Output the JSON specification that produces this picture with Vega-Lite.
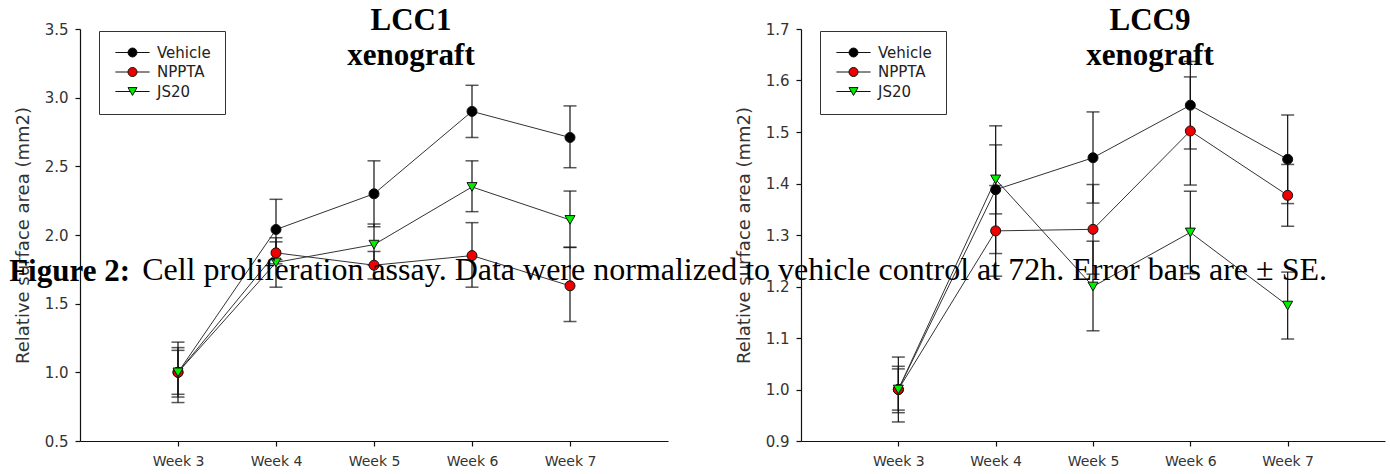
{
  "$schema": "https://vega.github.io/schema/vega-lite/v6.json",
  "padding": {"left": 9, "top": 5, "right": 2, "bottom": 5},
  "background": "white",
  "title": {"text": "Figure 2:", "font": "Liberation Serif", "fontSize": 31, "fontWeight": "bold", "color": "black", "anchor": "start", "frame": "bounds", "baseline": "alphabetic", "offset": -307, "dx": -5},
  "datasets": {
    "left": [
      {"week": "Week 3", "series": "Vehicle", "mean": 1.00, "lo": 0.78, "hi": 1.22},
      {"week": "Week 3", "series": "NPPTA", "mean": 1.00, "lo": 0.82, "hi": 1.18},
      {"week": "Week 3", "series": "JS20", "mean": 1.00, "lo": 0.84, "hi": 1.16},
      {"week": "Week 4", "series": "Vehicle", "mean": 2.04, "lo": 1.82, "hi": 2.26},
      {"week": "Week 4", "series": "NPPTA", "mean": 1.87, "lo": 1.79, "hi": 1.95},
      {"week": "Week 4", "series": "JS20", "mean": 1.80, "lo": 1.62, "hi": 1.98},
      {"week": "Week 5", "series": "Vehicle", "mean": 2.30, "lo": 2.06, "hi": 2.54},
      {"week": "Week 5", "series": "NPPTA", "mean": 1.78, "lo": 1.68, "hi": 1.88},
      {"week": "Week 5", "series": "JS20", "mean": 1.93, "lo": 1.78, "hi": 2.08},
      {"week": "Week 6", "series": "Vehicle", "mean": 2.90, "lo": 2.71, "hi": 3.09},
      {"week": "Week 6", "series": "NPPTA", "mean": 1.85, "lo": 1.62, "hi": 2.09},
      {"week": "Week 6", "series": "JS20", "mean": 2.35, "lo": 2.17, "hi": 2.54},
      {"week": "Week 7", "series": "Vehicle", "mean": 2.71, "lo": 2.49, "hi": 2.94},
      {"week": "Week 7", "series": "NPPTA", "mean": 1.63, "lo": 1.37, "hi": 1.91},
      {"week": "Week 7", "series": "JS20", "mean": 2.11, "lo": 1.91, "hi": 2.32}
    ],
    "right": [
      {"week": "Week 3", "series": "Vehicle", "mean": 1.000, "lo": 0.937, "hi": 1.063},
      {"week": "Week 3", "series": "NPPTA", "mean": 1.000, "lo": 0.955, "hi": 1.045},
      {"week": "Week 3", "series": "JS20", "mean": 1.000, "lo": 0.960, "hi": 1.040},
      {"week": "Week 4", "series": "Vehicle", "mean": 1.388, "lo": 1.264, "hi": 1.512},
      {"week": "Week 4", "series": "NPPTA", "mean": 1.308, "lo": 1.220, "hi": 1.396},
      {"week": "Week 4", "series": "JS20", "mean": 1.408, "lo": 1.341, "hi": 1.475},
      {"week": "Week 5", "series": "Vehicle", "mean": 1.450, "lo": 1.362, "hi": 1.539},
      {"week": "Week 5", "series": "NPPTA", "mean": 1.311, "lo": 1.224, "hi": 1.398},
      {"week": "Week 5", "series": "JS20", "mean": 1.200, "lo": 1.114, "hi": 1.288},
      {"week": "Week 6", "series": "Vehicle", "mean": 1.552, "lo": 1.467, "hi": 1.637},
      {"week": "Week 6", "series": "NPPTA", "mean": 1.502, "lo": 1.397, "hi": 1.607},
      {"week": "Week 6", "series": "JS20", "mean": 1.305, "lo": 1.225, "hi": 1.385},
      {"week": "Week 7", "series": "Vehicle", "mean": 1.447, "lo": 1.361, "hi": 1.533},
      {"week": "Week 7", "series": "NPPTA", "mean": 1.377, "lo": 1.317, "hi": 1.437},
      {"week": "Week 7", "series": "JS20", "mean": 1.163, "lo": 1.098, "hi": 1.228}
    ]
  },
  "vconcat": [
    {
      "title": {"text": "Cell proliferation assay. Data were normalized to vehicle control at 72h. Error bars are ± SE.", "font": "Liberation Serif", "fontSize": 32, "fontWeight": "normal", "color": "black", "anchor": "start", "frame": "bounds", "baseline": "alphabetic", "offset": -307, "dx": 128},
      "spacing": 67,
      "hconcat": [
        {
          "width": 588,
          "height": 412,
          "title": {"text": ["LCC1", "xenograft"], "font": "Liberation Serif", "fontSize": 31, "fontWeight": "bold", "color": "black", "anchor": "middle", "frame": "group", "dx": 37, "offset": -74, "baseline": "alphabetic", "lineHeight": 35},
          "data": {"name": "left"},
          "encoding": {
            "x": {"field": "week", "type": "ordinal", "scale": {"type": "point", "padding": 1, "domain": ["Week 3", "Week 4", "Week 5", "Week 6", "Week 7"]}, "axis": {"title": null, "labelAngle": 0, "labelPadding": 8}}
          },
          "layer": [
            {
              "mark": {"type": "rule", "color": "#111", "strokeWidth": 1.2},
              "encoding": {
                "y": {"field": "lo", "type": "quantitative", "scale": {"domain": [0.5, 3.5], "nice": false, "zero": false}, "axis": {"title": "Relative surface area (mm2)", "values": [0.5, 1.0, 1.5, 2.0, 2.5, 3.0, 3.5], "format": ".1f", "titlePadding": 12}},
                "y2": {"field": "hi"}
              }
            },
            {
              "mark": {"type": "tick", "orient": "horizontal", "color": "#111", "size": 13, "thickness": 1.5},
              "encoding": {"y": {"field": "lo", "type": "quantitative"}}
            },
            {
              "mark": {"type": "tick", "orient": "horizontal", "color": "#111", "size": 13, "thickness": 1.5},
              "encoding": {"y": {"field": "hi", "type": "quantitative"}}
            },
            {
              "mark": {"type": "line", "stroke": "#333", "strokeWidth": 1},
              "encoding": {"y": {"field": "mean", "type": "quantitative"}, "detail": {"field": "series"}}
            },
            {
              "transform": [{"filter": "datum.series != 'JS20'"}],
              "mark": {"type": "point", "shape": "circle", "filled": true, "stroke": "#111", "strokeWidth": 1, "size": 100, "opacity": 1},
              "encoding": {"y": {"field": "mean", "type": "quantitative"}, "fill": {"field": "series", "type": "nominal", "scale": {"domain": ["Vehicle", "NPPTA", "JS20"], "range": ["#000000", "#ee0000", "#00ee00"]}}}
            },
            {
              "transform": [{"filter": "datum.series == 'JS20'"}],
              "mark": {"type": "point", "shape": "triangle-down", "filled": true, "stroke": "#111", "strokeWidth": 1, "size": 100, "opacity": 1},
              "encoding": {"y": {"field": "mean", "type": "quantitative"}, "fill": {"field": "series", "type": "nominal"}}
            },
            {
              "mark": {"type": "point", "filled": true, "stroke": "#111", "strokeWidth": 1, "size": 81, "opacity": 0},
              "encoding": {
                "y": {"field": "mean", "type": "quantitative"},
                "fill": {"field": "series", "type": "nominal"},
                "shape": {"field": "series", "type": "nominal", "scale": {"domain": ["Vehicle", "NPPTA", "JS20"], "range": ["M-3.8,0H-1M1,0H3.8M-1,0A1,1 0 1,0 1,0A1,1 0 1,0 -1,0Z", "M-3.8,0H-1M1,0H3.8M-1,0A1,1 0 1,0 1,0A1,1 0 1,0 -1,0Z", "M-3.8,0H-0.5M0.5,0H3.8M-1,-0.87L1,-0.87L0,0.87Z"]},
                  "legend": {"orient": "none", "legendX": 19, "legendY": 2, "title": null, "strokeColor": "#333", "fillColor": "white", "padding": 14, "symbolOffset": 12, "labelOffset": 17, "symbolSize": 81, "symbolOpacity": 1, "symbolStrokeColor": "#111", "symbolStrokeWidth": 1, "labelFontSize": 15, "labelFont": "DejaVu Sans", "labelColor": "#222", "rowPadding": 3.5}
                }
              }
            }
          ]
        },
        {
          "width": 584,
          "height": 412,
          "title": {"text": ["LCC9", "xenograft"], "font": "Liberation Serif", "fontSize": 31, "fontWeight": "bold", "color": "black", "anchor": "middle", "frame": "group", "dx": 57, "offset": -74, "baseline": "alphabetic", "lineHeight": 35},
          "data": {"name": "right"},
          "encoding": {
            "x": {"field": "week", "type": "ordinal", "scale": {"type": "point", "padding": 1, "domain": ["Week 3", "Week 4", "Week 5", "Week 6", "Week 7"]}, "axis": {"title": null, "labelAngle": 0, "labelPadding": 8}}
          },
          "layer": [
            {
              "mark": {"type": "rule", "color": "#111", "strokeWidth": 1.2},
              "encoding": {
                "y": {"field": "lo", "type": "quantitative", "scale": {"domain": [0.9, 1.7], "nice": false, "zero": false}, "axis": {"title": "Relative surface area (mm2)", "values": [0.9, 1.0, 1.1, 1.2, 1.3, 1.4, 1.5, 1.6, 1.7], "format": ".1f", "titlePadding": 12}},
                "y2": {"field": "hi"}
              }
            },
            {
              "mark": {"type": "tick", "orient": "horizontal", "color": "#111", "size": 13, "thickness": 1.5},
              "encoding": {"y": {"field": "lo", "type": "quantitative"}}
            },
            {
              "mark": {"type": "tick", "orient": "horizontal", "color": "#111", "size": 13, "thickness": 1.5},
              "encoding": {"y": {"field": "hi", "type": "quantitative"}}
            },
            {
              "mark": {"type": "line", "stroke": "#333", "strokeWidth": 1},
              "encoding": {"y": {"field": "mean", "type": "quantitative"}, "detail": {"field": "series"}}
            },
            {
              "transform": [{"filter": "datum.series != 'JS20'"}],
              "mark": {"type": "point", "shape": "circle", "filled": true, "stroke": "#111", "strokeWidth": 1, "size": 100, "opacity": 1},
              "encoding": {"y": {"field": "mean", "type": "quantitative"}, "fill": {"field": "series", "type": "nominal", "scale": {"domain": ["Vehicle", "NPPTA", "JS20"], "range": ["#000000", "#ee0000", "#00ee00"]}}}
            },
            {
              "transform": [{"filter": "datum.series == 'JS20'"}],
              "mark": {"type": "point", "shape": "triangle-down", "filled": true, "stroke": "#111", "strokeWidth": 1, "size": 100, "opacity": 1},
              "encoding": {"y": {"field": "mean", "type": "quantitative"}, "fill": {"field": "series", "type": "nominal"}}
            },
            {
              "mark": {"type": "point", "filled": true, "stroke": "#111", "strokeWidth": 1, "size": 81, "opacity": 0},
              "encoding": {
                "y": {"field": "mean", "type": "quantitative"},
                "fill": {"field": "series", "type": "nominal"},
                "shape": {"field": "series", "type": "nominal", "scale": {"domain": ["Vehicle", "NPPTA", "JS20"], "range": ["M-3.8,0H-1M1,0H3.8M-1,0A1,1 0 1,0 1,0A1,1 0 1,0 -1,0Z", "M-3.8,0H-1M1,0H3.8M-1,0A1,1 0 1,0 1,0A1,1 0 1,0 -1,0Z", "M-3.8,0H-0.5M0.5,0H3.8M-1,-0.87L1,-0.87L0,0.87Z"]},
                  "legend": {"orient": "none", "legendX": 19, "legendY": 2, "title": null, "strokeColor": "#333", "fillColor": "white", "padding": 14, "symbolOffset": 12, "labelOffset": 17, "symbolSize": 81, "symbolOpacity": 1, "symbolStrokeColor": "#111", "symbolStrokeWidth": 1, "labelFontSize": 15, "labelFont": "DejaVu Sans", "labelColor": "#222", "rowPadding": 3.5}
                }
              }
            }
          ]
        }
      ],
      "resolve": {"scale": {"y": "independent", "fill": "independent", "shape": "independent"}, "legend": {"fill": "independent", "shape": "independent"}}
    }
  ],
  "config": {
    "view": {"stroke": null},
    "font": "DejaVu Sans",
    "axis": {"grid": false, "domainColor": "#111", "domainWidth": 1.2, "tickColor": "#111", "tickWidth": 1.2, "tickSize": 5, "labelFont": "DejaVu Sans", "labelFontSize": 15, "labelColor": "#333", "labelPadding": 7, "titleFont": "DejaVu Sans", "titleFontSize": 18, "titleFontWeight": "normal", "titleColor": "#333"},
    "axisX": {"labelFontSize": 14}
  }
}
